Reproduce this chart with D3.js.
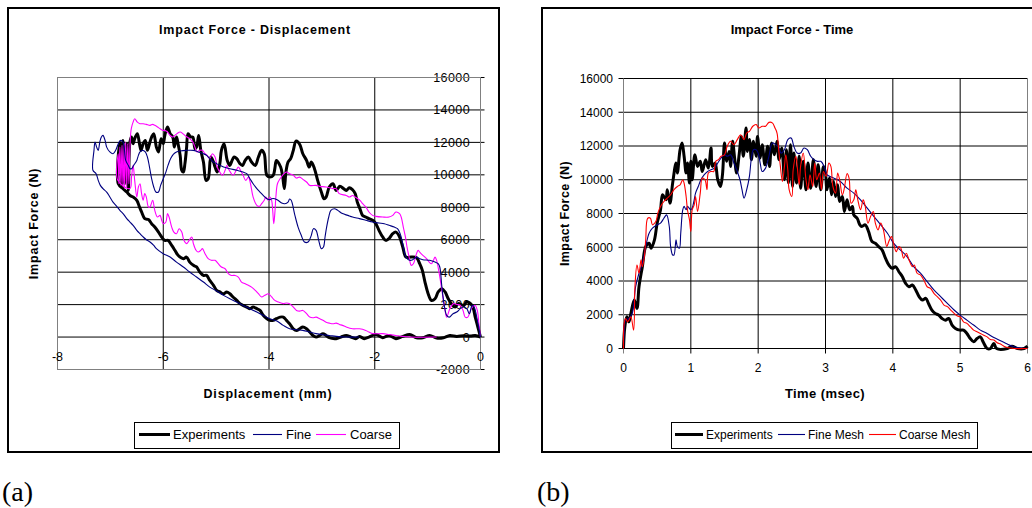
<!DOCTYPE html>
<html>
<head>
<meta charset="utf-8">
<script src="https://cdn.jsdelivr.net/npm/d3@7"></script>
<style>
  body { margin: 0; background: #fff; }
  svg { display: block; font-family: "Liberation Sans", Arial, sans-serif; }
</style>
</head>
<body>
<svg id="fig" width="1032" height="508"></svg>
<script>
// ---- Panel (a): Impact Force - Displacement, [displacement mm, force N] ----
const dispTicks = [-8, -6, -4, -2, 0];
const dispForceTicks = [-2000, 0, 2000, 4000, 6000, 8000, 10000, 12000, 14000, 16000];

const dispExperiments = [[0,0],[-0.05,620],[-0.10,1230],[-0.16,1950],[-0.26,2160],[-0.32,1950],[-0.42,2060],[-0.48,1850],[-0.54,2010],[-0.61,2360],[-0.67,2780],[-0.73,2980],[-0.80,2780],[-0.86,2360],[-0.93,2260],[-0.99,2670],[-1.05,3390],[-1.10,4110],[-1.15,4520],[-1.21,4890],[-1.31,4930],[-1.41,4930],[-1.47,5550],[-1.53,6170],[-1.60,6470],[-1.66,6370],[-1.73,6070],[-1.79,5960],[-1.85,6170],[-1.92,6580],[-1.98,6990],[-2.04,7200],[-2.11,7300],[-2.17,7400],[-2.23,7500],[-2.28,7910],[-2.33,8320],[-2.37,8840],[-2.42,9080],[-2.48,9210],[-2.54,9040],[-2.59,9150],[-2.66,9290],[-2.73,9040],[-2.79,9450],[-2.86,9250],[-2.92,8630],[-2.96,8530],[-3.01,8940],[-3.08,9660],[-3.14,10380],[-3.20,10790],[-3.24,10480],[-3.29,10890],[-3.36,11300],[-3.41,11820],[-3.45,12020],[-3.49,12080],[-3.54,11510],[-3.59,11000],[-3.64,10790],[-3.68,10170],[-3.71,9150],[-3.74,9860],[-3.78,10480],[-3.86,10890],[-3.89,10380],[-3.92,9970],[-3.98,9860],[-4.04,9970],[-4.09,11300],[-4.14,11510],[-4.20,11100],[-4.26,10580],[-4.33,10790],[-4.39,11100],[-4.45,10890],[-4.50,10580],[-4.55,10690],[-4.61,11000],[-4.66,11100],[-4.71,10790],[-4.74,10580],[-4.79,10890],[-4.85,11920],[-4.90,11510],[-4.93,10690],[-4.98,10170],[-5.02,10480],[-5.05,10790],[-5.10,11100],[-5.15,9760],[-5.19,9660],[-5.24,10790],[-5.29,11510],[-5.33,12430],[-5.37,11710],[-5.40,11610],[-5.44,12330],[-5.48,12330],[-5.53,12540],[-5.56,11610],[-5.59,10690],[-5.62,10170],[-5.65,10280],[-5.68,11200],[-5.72,11920],[-5.75,12330],[-5.79,11710],[-5.82,12330],[-5.87,12540],[-5.92,12950],[-5.97,12430],[-6.00,11920],[-6.04,12230],[-6.09,11410],[-6.13,11710],[-6.18,12540],[-6.22,12330],[-6.26,11920],[-6.30,11510],[-6.34,12120],[-6.38,11920],[-6.42,11510],[-6.45,11920],[-6.49,12540],[-6.54,12230],[-6.57,11920],[-6.60,12330],[-6.63,12020],[-6.66,9040],[-6.69,11920],[-6.73,9450],[-6.76,12120],[-6.79,9250],[-6.82,12020],[-6.85,9450],[-6.76,9150],[-6.69,8940],[-6.63,8730],[-6.57,8630],[-6.50,8430],[-6.45,8020],[-6.41,7710],[-6.35,7300],[-6.28,7240],[-6.22,6990],[-6.16,6780],[-6.09,6470],[-6.03,6170],[-5.97,5960],[-5.91,5960],[-5.84,5650],[-5.78,5350],[-5.72,5040],[-5.62,4830],[-5.56,4930],[-5.50,4620],[-5.43,4420],[-5.37,4320],[-5.31,4010],[-5.24,3800],[-5.18,3800],[-5.12,3490],[-5.05,3190],[-4.99,2880],[-4.93,2780],[-4.86,2670],[-4.80,2780],[-4.74,2670],[-4.68,2470],[-4.61,2260],[-4.55,2060],[-4.49,1950],[-4.42,1850],[-4.36,1750],[-4.30,1850],[-4.23,1750],[-4.17,1640],[-4.11,1340],[-4.04,1130],[-3.98,1030],[-3.92,1030],[-3.86,1130],[-3.79,1230],[-3.73,1230],[-3.67,1030],[-3.61,820],[-3.54,510],[-3.48,410],[-3.42,510],[-3.36,620],[-3.29,510],[-3.23,310],[-3.17,100],[-3.11,0],[-3.04,100],[-2.98,210],[-2.92,100],[-2.86,-40],[-2.73,-100],[-2.64,0],[-2.54,100],[-2.45,0],[-2.36,-100],[-2.29,40],[-2.20,-100],[-2.11,0],[-1.98,160],[-1.85,-40],[-1.73,100],[-1.60,-100],[-1.47,40],[-1.34,160],[-1.21,-40],[-1.09,-40],[-0.96,100],[-0.83,-60],[-0.70,-40],[-0.58,100],[-0.45,40],[-0.32,80],[-0.19,60],[-0.10,100],[0,0]];

const dispFine = [[0,0],[-0.06,1030],[-0.12,1850],[-0.16,1950],[-0.21,1440],[-0.26,1750],[-0.32,1850],[-0.38,1750],[-0.45,1540],[-0.52,1440],[-0.59,1230],[-0.64,1340],[-0.69,2060],[-0.73,3080],[-0.77,4320],[-0.80,4520],[-0.86,4620],[-0.96,4730],[-1.09,4770],[-1.15,4830],[-1.21,4930],[-1.28,4770],[-1.34,4730],[-1.41,4930],[-1.47,5760],[-1.52,6370],[-1.57,6680],[-1.63,6780],[-1.73,6890],[-1.82,6990],[-1.92,7030],[-2.04,7090],[-2.17,7200],[-2.29,7300],[-2.42,7400],[-2.51,7500],[-2.61,7610],[-2.70,7810],[-2.76,7910],[-2.83,7810],[-2.87,7400],[-2.91,6780],[-2.94,6170],[-2.97,5550],[-3.01,5450],[-3.06,5960],[-3.11,6580],[-3.16,6680],[-3.20,6270],[-3.26,5860],[-3.33,5860],[-3.39,6270],[-3.45,6780],[-3.51,7500],[-3.58,8430],[-3.61,8510],[-3.64,8320],[-3.70,8220],[-3.76,8260],[-3.83,8430],[-3.89,8530],[-3.95,8530],[-3.98,8470],[-4.04,8530],[-4.11,8730],[-4.17,8940],[-4.23,9150],[-4.30,9450],[-4.36,9760],[-4.42,10070],[-4.49,10170],[-4.61,10280],[-4.74,10380],[-4.86,10480],[-4.99,10690],[-5.05,10790],[-5.12,11000],[-5.18,11200],[-5.24,11300],[-5.34,11410],[-5.43,11510],[-5.56,11510],[-5.68,11470],[-5.75,11410],[-5.81,11260],[-5.86,11000],[-5.91,10580],[-5.95,10170],[-6.00,9760],[-6.05,9350],[-6.09,8940],[-6.14,8940],[-6.18,9250],[-6.22,9760],[-6.26,10480],[-6.30,11100],[-6.34,11410],[-6.39,11510],[-6.44,11410],[-6.47,11200],[-6.50,10890],[-6.56,10580],[-6.60,10380],[-6.63,10380],[-6.66,10580],[-6.71,10890],[-6.76,12020],[-6.81,12120],[-6.85,11920],[-6.90,11510],[-6.95,11300],[-7.01,11410],[-7.07,11710],[-7.10,12120],[-7.14,12430],[-7.17,12330],[-7.20,12020],[-7.23,11510],[-7.26,11710],[-7.29,12020],[-7.31,11510],[-7.33,10280],[-7.27,10070],[-7.23,9660],[-7.19,9350],[-7.14,9150],[-7.07,8940],[-7.01,8630],[-6.95,8320],[-6.88,8060],[-6.82,7810],[-6.76,7610],[-6.69,7300],[-6.63,7090],[-6.57,6890],[-6.50,6580],[-6.44,6370],[-6.38,6170],[-6.32,6000],[-6.25,5860],[-6.18,5650],[-6.13,5450],[-6.00,5140],[-5.87,4930],[-5.75,4620],[-5.62,4320],[-5.50,4010],[-5.37,3700],[-5.24,3390],[-5.12,3080],[-4.99,2840],[-4.86,2570],[-4.74,2360],[-4.61,2160],[-4.49,1950],[-4.36,1750],[-4.23,1540],[-4.11,1340],[-3.98,1130],[-3.85,990],[-3.73,720],[-3.61,510],[-3.48,450],[-3.36,410],[-3.23,310],[-3.11,210],[-2.98,140],[-2.86,100],[-2.73,40],[-2.54,0],[-2.30,0]];

const dispCoarse = [[0,0],[-0.03,820],[-0.06,1640],[-0.10,1950],[-0.14,1890],[-0.19,1640],[-0.24,1230],[-0.29,1230],[-0.33,1640],[-0.38,1950],[-0.45,2010],[-0.51,2060],[-0.58,1750],[-0.64,1230],[-0.68,1850],[-0.73,2880],[-0.78,3910],[-0.83,4730],[-0.86,4930],[-0.89,4730],[-0.93,4520],[-0.97,4620],[-1.02,4830],[-1.09,5040],[-1.15,5240],[-1.18,5350],[-1.21,5140],[-1.27,4520],[-1.31,4420],[-1.35,4930],[-1.39,5550],[-1.42,6170],[-1.46,6780],[-1.50,7400],[-1.53,7610],[-1.60,7710],[-1.66,7500],[-1.73,7400],[-1.85,7400],[-1.98,7440],[-2.04,7500],[-2.11,7710],[-2.17,8020],[-2.23,8220],[-2.28,8430],[-2.37,8630],[-2.42,8730],[-2.48,8630],[-2.54,8730],[-2.67,8840],[-2.73,9150],[-2.79,9150],[-2.92,9250],[-3.04,9290],[-3.11,9350],[-3.23,9350],[-3.29,9560],[-3.36,9720],[-3.42,9860],[-3.48,9800],[-3.54,9970],[-3.61,10070],[-3.67,10170],[-3.73,10030],[-3.79,9760],[-3.84,9450],[-3.87,8630],[-3.89,7610],[-3.91,6990],[-3.93,7810],[-3.95,8430],[-3.98,8630],[-4.01,8430],[-4.06,8630],[-4.09,8430],[-4.14,8220],[-4.18,8060],[-4.23,8120],[-4.30,8630],[-4.35,9450],[-4.39,9860],[-4.44,9660],[-4.49,9970],[-4.54,10280],[-4.58,10480],[-4.62,10280],[-4.68,9970],[-4.73,10170],[-4.77,10380],[-4.80,10580],[-4.83,10280],[-4.88,9970],[-4.93,10170],[-4.98,10480],[-5.02,11100],[-5.07,11300],[-5.12,11000],[-5.17,11200],[-5.21,11300],[-5.26,11510],[-5.31,11510],[-5.36,11410],[-5.40,11710],[-5.44,12020],[-5.50,12230],[-5.55,12330],[-5.59,12430],[-5.63,12540],[-5.68,12640],[-5.74,12540],[-5.78,12430],[-5.82,12330],[-5.87,12430],[-5.92,12640],[-5.97,12740],[-6.01,12740],[-6.06,12840],[-6.11,12950],[-6.16,13050],[-6.20,13110],[-6.25,13050],[-6.32,13110],[-6.38,13150],[-6.44,13150],[-6.49,13250],[-6.54,13460],[-6.57,13250],[-6.59,13050],[-6.61,12740],[-6.63,11710],[-6.65,9450],[-6.67,11920],[-6.69,9250],[-6.71,12020],[-6.73,9150],[-6.74,11920],[-6.76,9250],[-6.78,11820],[-6.80,9350],[-6.82,11710],[-6.84,9450],[-6.85,11300],[-6.86,9660],[-6.63,9150],[-6.60,9860],[-6.57,10580],[-6.54,9660],[-6.50,8630],[-6.47,9250],[-6.44,9450],[-6.41,8840],[-6.38,8430],[-6.35,8840],[-6.32,8630],[-6.28,8020],[-6.25,8020],[-6.20,8430],[-6.16,7810],[-6.11,7400],[-6.06,7500],[-6.03,7200],[-6.00,6990],[-5.95,7090],[-5.92,7610],[-5.89,7400],[-5.84,6780],[-5.80,6470],[-5.75,6370],[-5.70,6680],[-5.65,6470],[-5.61,5960],[-5.56,5760],[-5.51,5960],[-5.46,6170],[-5.43,5760],[-5.38,5350],[-5.34,5240],[-5.29,5350],[-5.26,5450],[-5.21,5140],[-5.15,4830],[-5.09,4730],[-5.02,4730],[-4.96,4520],[-4.90,4320],[-4.83,4210],[-4.77,3910],[-4.71,3800],[-4.64,3800],[-4.58,3700],[-4.52,3390],[-4.45,3290],[-4.39,3190],[-4.33,3080],[-4.26,2880],[-4.20,2670],[-4.14,2470],[-4.08,2570],[-4.01,2670],[-3.95,2470],[-3.89,2260],[-3.82,2160],[-3.73,2060],[-3.67,2100],[-3.61,2060],[-3.54,1850],[-3.48,1640],[-3.42,1600],[-3.36,1640],[-3.29,1440],[-3.23,1230],[-3.17,1190],[-3.11,1230],[-3.04,1130],[-2.98,1030],[-2.92,920],[-2.86,860],[-2.79,820],[-2.73,860],[-2.67,780],[-2.61,720],[-2.54,620],[-2.42,510],[-2.29,510],[-2.17,410],[-2.11,310],[-2.04,210],[-1.85,210],[-1.73,160],[-1.60,100],[-1.47,40],[-1.34,0],[-0.83,0]];

// ---- Panel (b): Impact Force - Time, [time msec, force N] ----
const timeTicks = [0, 1, 2, 3, 4, 5, 6];
const timeForceTicks = [0, 2000, 4000, 6000, 8000, 10000, 12000, 14000, 16000];

const timeExperiments = [[0,0],[0.02,1290],[0.05,1880],[0.08,1580],[0.11,2080],[0.16,2870],[0.20,2380],[0.23,3660],[0.28,4850],[0.33,6040],[0.38,6240],[0.41,5940],[0.46,6440],[0.50,7430],[0.55,8220],[0.58,9110],[0.63,8810],[0.65,9410],[0.69,8610],[0.73,9800],[0.78,10990],[0.80,10400],[0.84,11780],[0.87,12180],[0.90,11390],[0.93,10400],[0.95,10990],[0.98,9800],[1.00,11090],[1.02,10000],[1.06,11480],[1.10,10790],[1.14,11090],[1.17,10490],[1.22,11190],[1.26,10690],[1.30,11880],[1.32,10790],[1.36,10990],[1.40,10000],[1.44,9600],[1.47,10300],[1.50,12180],[1.53,11090],[1.57,11680],[1.59,10790],[1.62,12280],[1.65,11290],[1.68,10400],[1.72,11580],[1.75,12570],[1.78,11390],[1.82,13070],[1.84,11680],[1.87,12380],[1.90,11190],[1.93,12280],[1.97,11390],[1.99,12570],[2.03,11290],[2.06,12080],[2.10,10890],[2.14,11980],[2.17,10790],[2.20,12180],[2.24,11480],[2.28,12280],[2.31,11190],[2.35,11880],[2.39,10000],[2.42,11780],[2.45,9800],[2.48,12080],[2.51,9600],[2.53,11580],[2.57,9800],[2.61,11390],[2.63,9500],[2.67,11090],[2.71,9410],[2.74,10990],[2.78,9500],[2.82,11190],[2.86,9600],[2.89,10890],[2.93,9410],[2.97,10790],[3.00,10400],[3.02,9410],[3.06,10100],[3.09,9110],[3.12,9900],[3.15,9010],[3.18,9700],[3.21,8710],[3.25,9010],[3.28,8120],[3.32,8810],[3.36,8220],[3.40,8420],[3.42,7920],[3.47,7720],[3.51,7330],[3.54,7230],[3.59,7330],[3.64,6930],[3.69,6340],[3.74,6240],[3.79,6040],[3.84,5840],[3.89,5350],[3.94,4950],[3.99,4750],[4.04,4850],[4.09,4550],[4.14,4260],[4.19,3860],[4.24,3660],[4.29,3760],[4.34,3470],[4.39,3070],[4.44,2870],[4.49,2970],[4.53,2670],[4.58,2280],[4.63,2080],[4.68,1980],[4.73,1780],[4.78,1680],[4.83,1780],[4.88,1390],[4.93,1190],[5.00,1090],[5.05,1090],[5.10,890],[5.15,590],[5.20,400],[5.25,590],[5.30,690],[5.34,400],[5.38,100],[5.40,0],[5.45,0],[5.50,300],[5.54,0],[5.70,0],[5.77,140],[5.85,0],[5.95,0],[6.00,140]];

const timeFine = [[0,0],[0.01,890],[0.03,1680],[0.08,1780],[0.13,2080],[0.18,3660],[0.23,4460],[0.28,5050],[0.33,6040],[0.38,6830],[0.43,7130],[0.50,7330],[0.55,7430],[0.60,7720],[0.64,7920],[0.68,7230],[0.70,6040],[0.73,5540],[0.75,5540],[0.78,6440],[0.80,6040],[0.83,5940],[0.85,6830],[0.88,8220],[0.90,8420],[0.93,8220],[0.95,8420],[1.00,8220],[1.02,8320],[1.05,8810],[1.07,9210],[1.11,9600],[1.15,10000],[1.20,10300],[1.25,10490],[1.30,10590],[1.35,10690],[1.40,10990],[1.45,11290],[1.50,11480],[1.54,11390],[1.59,11480],[1.64,10990],[1.69,10490],[1.73,10000],[1.76,9410],[1.79,8910],[1.83,9410],[1.87,10200],[1.90,11290],[1.93,11780],[1.97,11780],[2.00,11580],[2.03,10990],[2.06,10490],[2.11,10690],[2.16,11390],[2.21,12180],[2.26,12080],[2.31,11880],[2.34,11580],[2.39,11780],[2.44,12380],[2.49,12470],[2.53,11980],[2.58,11580],[2.63,11580],[2.68,11880],[2.73,11780],[2.78,11390],[2.83,11190],[2.88,11090],[2.93,11090],[2.98,10790],[3.02,10300],[3.12,10100],[3.22,9900],[3.32,9500],[3.42,9210],[3.52,8810],[3.62,8320],[3.72,7820],[3.82,7330],[3.92,6830],[4.01,6240],[4.11,5840],[4.21,5450],[4.31,4850],[4.41,4460],[4.51,3960],[4.61,3470],[4.71,3070],[4.81,2670],[4.91,2280],[5.00,1980],[5.10,1680],[5.20,1390],[5.30,1090],[5.40,890],[5.50,650],[5.60,460],[5.70,260],[5.80,100],[5.90,20],[6.00,0]];

const timeCoarse = [[0,0],[0.01,1490],[0.03,1780],[0.06,1580],[0.08,1680],[0.11,1880],[0.15,1090],[0.17,3660],[0.20,4950],[0.23,4460],[0.26,5250],[0.28,4850],[0.31,5450],[0.33,6440],[0.36,7720],[0.40,7720],[0.43,7330],[0.48,7520],[0.51,8020],[0.55,8420],[0.60,8710],[0.65,8910],[0.70,9110],[0.75,9410],[0.80,9600],[0.84,9700],[0.88,10000],[0.90,9800],[0.93,9010],[0.95,8220],[0.98,7620],[1.00,6930],[1.02,8220],[1.05,8510],[1.07,9010],[1.10,8120],[1.14,9210],[1.17,10100],[1.21,10000],[1.24,9410],[1.26,10400],[1.30,10490],[1.34,10490],[1.37,11090],[1.41,11190],[1.45,11390],[1.50,11480],[1.54,11980],[1.59,12280],[1.64,12080],[1.69,12380],[1.74,12670],[1.79,12380],[1.83,12770],[1.87,12870],[1.92,13170],[1.97,13270],[2.01,13070],[2.06,13170],[2.11,13170],[2.16,13400],[2.21,13370],[2.25,13070],[2.28,12770],[2.30,11980],[2.33,10790],[2.36,9900],[2.39,10790],[2.41,11480],[2.44,10590],[2.46,9410],[2.50,9010],[2.52,10590],[2.56,11390],[2.58,10790],[2.61,9700],[2.63,10790],[2.67,11580],[2.71,10000],[2.74,9410],[2.77,10300],[2.81,9600],[2.84,10990],[2.87,10000],[2.91,10400],[2.94,9410],[2.97,10490],[3.01,10200],[3.05,10990],[3.08,10790],[3.11,9600],[3.15,9210],[3.18,10400],[3.21,10000],[3.25,9110],[3.28,9500],[3.32,10360],[3.35,10100],[3.38,8610],[3.42,8810],[3.45,9410],[3.48,8810],[3.52,8220],[3.56,8810],[3.59,8420],[3.63,7430],[3.67,7820],[3.71,8120],[3.74,7430],[3.78,7030],[3.82,7430],[3.86,7030],[3.91,6040],[3.94,6340],[3.98,6630],[4.01,6240],[4.05,5740],[4.09,6040],[4.12,5940],[4.16,5350],[4.20,5640],[4.24,5250],[4.29,4850],[4.32,4950],[4.36,4460],[4.41,4360],[4.46,4060],[4.51,3660],[4.56,3560],[4.61,3270],[4.66,3070],[4.71,2870],[4.76,2570],[4.81,2480],[4.86,2280],[4.91,2080],[4.96,1920],[5.00,1880],[5.05,1580],[5.10,1490],[5.15,1290],[5.20,1090],[5.25,990],[5.30,890],[5.35,790],[5.40,690],[5.45,530],[5.50,500],[5.55,340],[5.60,260],[5.65,140],[5.70,60],[5.80,0],[6.00,0]];

const svg = d3.select("#fig");
const line = d3.line().curve(d3.curveCatmullRom.alpha(0.5));

// ---------------- Panel (a) ----------------
const xA = d3.scaleLinear().domain([-8, 0]).range([57.5, 480.5]);
const yA = d3.scaleLinear().domain([-2000, 16000]).range([369.5, 77.5]);

svg.append("rect")
  .attr("x", 8).attr("y", 8).attr("width", 491).attr("height", 444)
  .attr("fill", "#fff").attr("stroke", "#000").attr("stroke-width", 2);

const gA = svg.append("g");

// y labels sit inside the plot, left of the right-hand axis
gA.selectAll("text.ylab")
  .data(dispForceTicks)
  .enter().append("text")
  .attr("x", 470).attr("y", d => yA(d)).attr("dy", "0.36em")
  .attr("text-anchor", "end").attr("font-size", "12.5px")
  .attr("letter-spacing", "0.4px")
  .text(d => d);

gA.selectAll("line.hgrid")
  .data(dispForceTicks)
  .enter().append("line")
  .attr("x1", xA(-8)).attr("x2", xA(0) + 4)
  .attr("y1", d => yA(d)).attr("y2", d => yA(d))
  .attr("stroke", "#000").attr("stroke-width", 1);

gA.selectAll("line.vgrid")
  .data(dispTicks)
  .enter().append("line")
  .attr("x1", d => xA(d)).attr("x2", d => xA(d))
  .attr("y1", yA(16000)).attr("y2", d => (d === -8 || d === 0) ? yA(0) + 5 : yA(-2000))
  .attr("stroke", "#000").attr("stroke-width", 1);

gA.append("rect")
  .attr("x", xA(-8)).attr("y", yA(16000))
  .attr("width", xA(0) - xA(-8)).attr("height", yA(-2000) - yA(16000))
  .attr("fill", "none").attr("stroke", "#808080").attr("stroke-width", 1);

gA.selectAll("text.xlab")
  .data(dispTicks)
  .enter().append("text")
  .attr("x", d => xA(d)).attr("y", 361)
  .attr("text-anchor", "middle").attr("font-size", "12.5px")
  .text(d => d);

const seriesA = [
  { name: "Experiments", data: dispExperiments, color: "#000000", width: 3 },
  { name: "Fine", data: dispFine, color: "#000080", width: 1.1 },
  { name: "Coarse", data: dispCoarse, color: "#ff00ff", width: 1.1 }
];

gA.selectAll("path.series")
  .data([seriesA[0], seriesA[2], seriesA[1]])
  .enter().append("path")
  .attr("fill", "none")
  .attr("stroke", d => d.color)
  .attr("stroke-width", d => d.width)
  .attr("stroke-linejoin", "round")
  .attr("d", d => line(d.data.map(p => [xA(p[0]), yA(p[1])])));

svg.append("text")
  .attr("x", 255).attr("y", 34).attr("text-anchor", "middle")
  .attr("font-size", "12.5px").attr("font-weight", "bold").attr("letter-spacing", "0.8px")
  .text("Impact Force - Displacement");

svg.append("text")
  .attr("transform", `translate(38, ${(yA(16000) + yA(-2000)) / 2}) rotate(-90)`)
  .attr("text-anchor", "middle")
  .attr("font-size", "12.5px").attr("font-weight", "bold").attr("letter-spacing", "0.8px")
  .text("Impact Force (N)");

svg.append("text")
  .attr("x", 268).attr("y", 398).attr("text-anchor", "middle")
  .attr("font-size", "12.5px").attr("font-weight", "bold").attr("letter-spacing", "0.8px")
  .text("Displacement (mm)");

drawLegend(134, 422, 265, [
  { label: "Experiments", color: "#000000", width: 3, x0: 139, x1: 170, tx: 173 },
  { label: "Fine", color: "#000080", width: 1.1, x0: 253, x1: 282, tx: 286 },
  { label: "Coarse", color: "#ff00ff", width: 1.1, x0: 316, x1: 346, tx: 350 }
], "13px");

svg.append("text")
  .attr("x", 2).attr("y", 501)
  .attr("font-family", "'Liberation Serif', 'Times New Roman', serif")
  .attr("font-size", "28px")
  .text("(a)");

// ---------------- Panel (b) ----------------
const xB = d3.scaleLinear().domain([0, 6]).range([623.5, 1027.5]);
const yB = d3.scaleLinear().domain([0, 16000]).range([348.5, 78.5]);

svg.append("rect")
  .attr("x", 542).attr("y", 8).attr("width", 520).attr("height", 444)
  .attr("fill", "#fff").attr("stroke", "#000").attr("stroke-width", 2);

const gB = svg.append("g");

gB.selectAll("line.hgrid")
  .data(timeForceTicks)
  .enter().append("line")
  .attr("x1", xB(0) - 5).attr("x2", xB(6))
  .attr("y1", d => yB(d)).attr("y2", d => yB(d))
  .attr("stroke", "#000").attr("stroke-width", 1);

gB.selectAll("line.vgrid")
  .data(timeTicks)
  .enter().append("line")
  .attr("x1", d => xB(d)).attr("x2", d => xB(d))
  .attr("y1", yB(16000)).attr("y2", yB(0) + 5)
  .attr("stroke", d => (d === 0 || d === 6) ? "#808080" : "#000").attr("stroke-width", 1);

gB.selectAll("text.ylab")
  .data(timeForceTicks)
  .enter().append("text")
  .attr("x", 613).attr("y", d => yB(d)).attr("dy", "0.36em")
  .attr("text-anchor", "end").attr("font-size", "12px")
  .text(d => d);

gB.selectAll("text.xlab")
  .data(timeTicks)
  .enter().append("text")
  .attr("x", d => xB(d)).attr("y", 372)
  .attr("text-anchor", "middle").attr("font-size", "12px")
  .text(d => d);

const seriesB = [
  { name: "Experiments", data: timeExperiments, color: "#000000", width: 3 },
  { name: "Fine Mesh", data: timeFine, color: "#000080", width: 1.1 },
  { name: "Coarse Mesh", data: timeCoarse, color: "#ff0000", width: 1.1 }
];

gB.selectAll("path.series")
  .data(seriesB)
  .enter().append("path")
  .attr("fill", "none")
  .attr("stroke", d => d.color)
  .attr("stroke-width", d => d.width)
  .attr("stroke-linejoin", "round")
  .attr("d", d => line(d.data.map(p => [xB(p[0]), yB(p[1])])));

svg.append("text")
  .attr("x", 792).attr("y", 34).attr("text-anchor", "middle")
  .attr("font-size", "13px").attr("font-weight", "bold")
  .text("Impact Force - Time");

svg.append("text")
  .attr("transform", `translate(569, ${(yB(16000) + yB(0)) / 2}) rotate(-90)`)
  .attr("text-anchor", "middle")
  .attr("font-size", "12.5px").attr("font-weight", "bold").attr("letter-spacing", "0.4px")
  .text("Impact Force (N)");

svg.append("text")
  .attr("x", 825).attr("y", 398).attr("text-anchor", "middle")
  .attr("font-size", "13px").attr("font-weight", "bold").attr("letter-spacing", "0.4px")
  .text("Time (msec)");

drawLegend(671, 422, 306, [
  { label: "Experiments", color: "#000000", width: 3, x0: 675, x1: 703, tx: 706 },
  { label: "Fine Mesh", color: "#000080", width: 1.1, x0: 778, x1: 805, tx: 808 },
  { label: "Coarse Mesh", color: "#ff0000", width: 1.1, x0: 869, x1: 896, tx: 899 }
], "12px");

svg.append("text")
  .attr("x", 537).attr("y", 501)
  .attr("font-family", "'Liberation Serif', 'Times New Roman', serif")
  .attr("font-size", "28px")
  .text("(b)");

// Legend box with line samples and labels
function drawLegend(x, y, w, items, fontSize) {
  const lg = svg.append("g");
  lg.append("rect")
    .attr("x", x + 0.5).attr("y", y + 0.5).attr("width", w).attr("height", 26)
    .attr("fill", "#fff").attr("stroke", "#000").attr("stroke-width", 1);
  lg.selectAll("line")
    .data(items)
    .enter().append("line")
    .attr("x1", d => d.x0).attr("x2", d => d.x1)
    .attr("y1", y + 12.5).attr("y2", y + 12.5)
    .attr("stroke", d => d.color).attr("stroke-width", d => d.width);
  lg.selectAll("text")
    .data(items)
    .enter().append("text")
    .attr("x", d => d.tx).attr("y", y + 16.5)
    .attr("font-size", fontSize)
    .text(d => d.label);
}
</script>
</body>
</html>
